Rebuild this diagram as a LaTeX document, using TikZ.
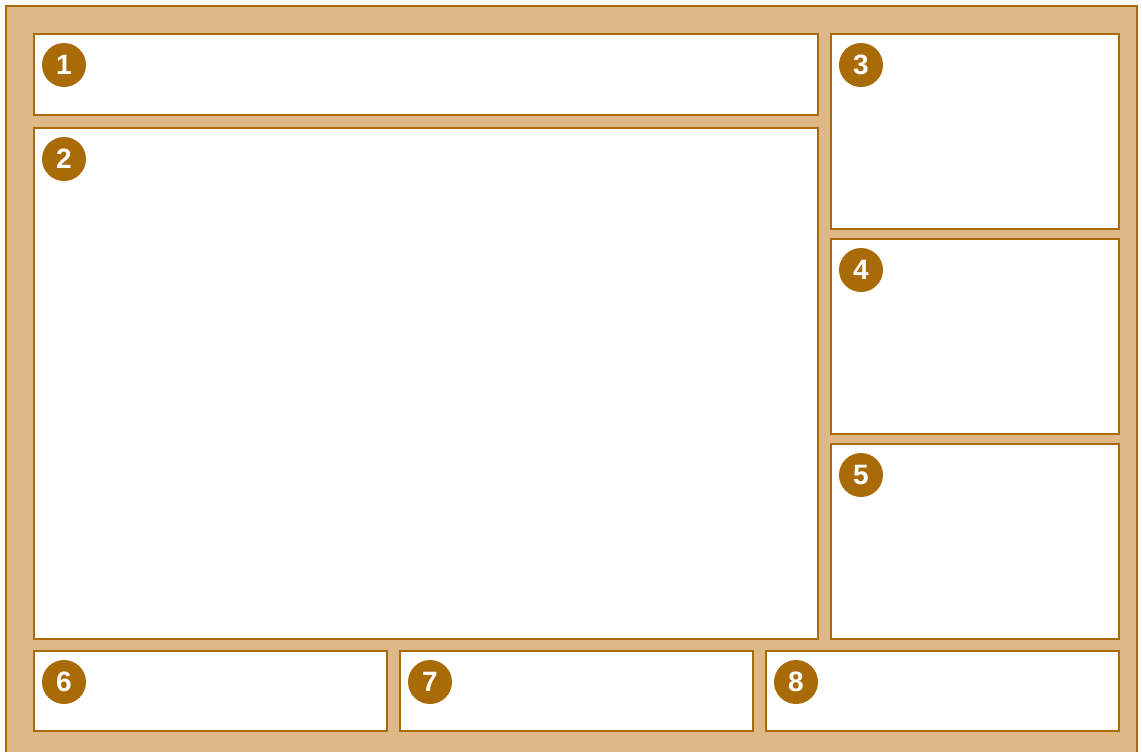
\documentclass[tikz,border=0pt]{standalone}
\usepackage{fontspec}
\setmainfont{Liberation Sans}
\usetikzlibrary{fit, positioning}
\definecolor{frametan}{HTML}{DEB887}
\definecolor{edgebrown}{HTML}{A86B08}

\tikzset{
  panel/.style={draw=edgebrown, fill=white, line width=1.5pt, inner sep=0pt},
  badge/.style={circle, fill=edgebrown, text=white, minimum size=33pt, inner sep=0pt,
    font=\fontsize{21}{25}\selectfont\bfseries}
}

\begin{document}
\begin{tikzpicture}[x=0.75pt, y=-0.75pt]
  \useasboundingbox (0,0) rectangle (1142,751);
  \clip (0,0) rectangle (1142,751);
  % outer frame
  \draw[edgebrown, fill=frametan, line width=1.5pt] (6,6) rectangle (1137,770);
  % panels
  \node[panel, fit={(34,34) (818,115)}] (p1) {};
  \node[panel, fit={(34,128) (818,639)}] (p2) {};
  \node[panel, fit={(831,34) (1119,229)}] (p3) {};
  \node[panel, fit={(831,239) (1119,434)}] (p4) {};
  \node[panel, fit={(831,444) (1119,639)}] (p5) {};
  \node[panel, fit={(34,651) (387,731)}] (p6) {};
  \node[panel, fit={(400,651) (753,731)}] (p7) {};
  \node[panel, fit={(766,651) (1119,731)}] (p8) {};
  % numbers
  \foreach \n in {1,...,8}
    \node[badge] (b\n) at ([xshift=23.25pt, yshift=-24pt]p\n.north west) {\n};
\end{tikzpicture}
\end{document}
